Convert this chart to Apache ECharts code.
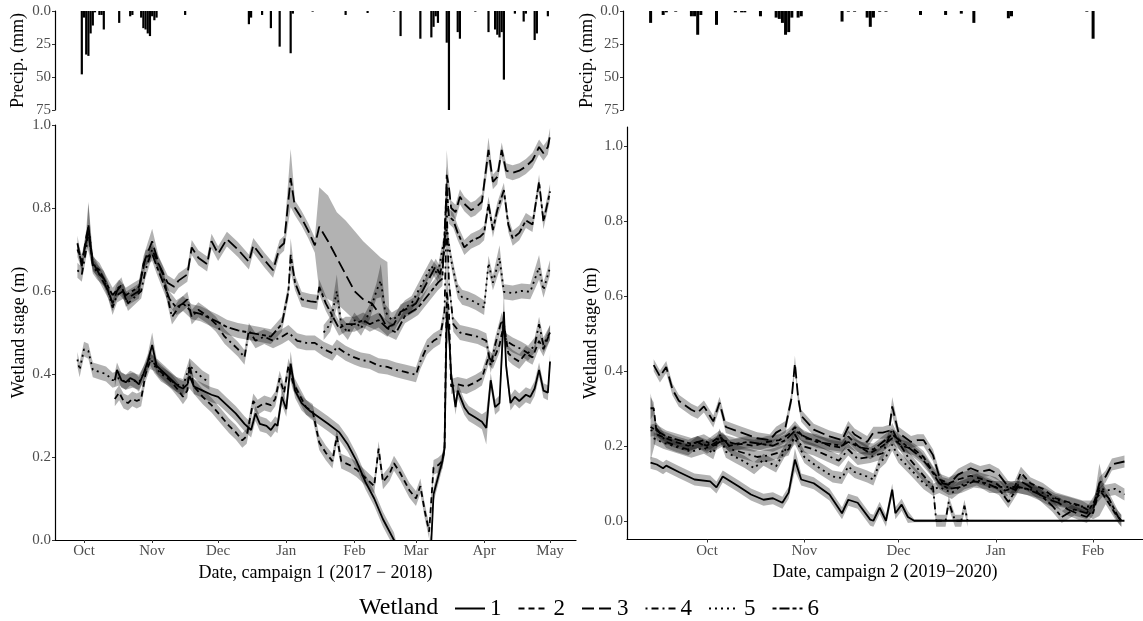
<!DOCTYPE html>
<html>
<head>
<meta charset="utf-8">
<script src="https://cdn.jsdelivr.net/npm/echarts@6/dist/echarts.min.js"></script>
<style>
html,body{margin:0;padding:0;background:#fff}
#chart{width:1143px;height:621px}
</style>
</head>
<body>
<div id="chart"></div>
<script>
// ---------- data ----------
// Wetland identifiers (legend order)
const wetlands = ['1', '2', '3', '4', '5', '6'];

// Month tick labels on the date axes
const monthTicks1 = ['10-01', '11-01', '12-01', '01-01', '02-01', '03-01', '04-01', '05-01'];
const monthTicks2 = ['10-01', '11-01', '12-01', '01-01', '02-01'];
const stageTicks = [0, 0.2, 0.4, 0.6, 0.8, 1.0];
const precipTicks = [0, 25, 50, 75];

// Daily precipitation (mm), campaign 1 (2017-2018)
const precip1 = [
  ['09-30', 48], ['10-01', 5], ['10-02', 33], ['10-03', 34], ['10-04', 17], ['10-05', 11], ['10-06', 1],
  ['10-08', 3], ['10-09', 3], ['10-10', 14], ['10-17', 9], ['10-22', 4], ['10-23', 3],
  ['10-27', 5], ['10-28', 13], ['10-29', 14], ['10-30', 17], ['10-31', 19], ['11-01', 4], ['11-02', 7], ['11-03', 5],
  ['11-16', 3], ['12-15', 10], ['12-16', 5], ['12-21', 3], ['12-25', 13], ['12-29', 27],
  ['01-03', 32], ['01-04', 2], ['01-13', 0.5], ['01-28', 3], ['02-07', 1.5], ['02-19', 0.5], ['02-22', 19],
  ['03-03', 21], ['03-08', 20], ['03-09', 12], ['03-10', 4], ['03-11', 9], ['03-15', 24], ['03-16', 75],
  ['03-20', 16], ['03-21', 21], ['03-28', 0.5], ['04-03', 16], ['04-06', 14], ['04-07', 18], ['04-08', 20],
  ['04-09', 16], ['04-10', 52], ['04-15', 2], ['04-19', 8], ['04-20', 2], ['04-24', 22], ['04-25', 17], ['04-30', 4]
];

// Daily precipitation (mm), campaign 2 (2019-2020)
const precip2 = [
  ['09-13', 9], ['09-17', 3], ['09-18', 1], ['09-21', 0.5], ['09-26', 4], ['09-27', 4], ['09-28', 18], ['09-29', 3],
  ['10-04', 10.5], ['10-10', 1], ['10-12', 1], ['10-13', 1], ['10-18', 4],
  ['10-23', 5], ['10-24', 6], ['10-25', 9], ['10-26', 18], ['10-27', 16], ['10-28', 5], ['10-30', 5], ['10-31', 4],
  ['11-13', 8], ['11-15', 0.5], ['11-17', 0.5], ['11-21', 5], ['11-22', 12], ['11-23', 5], ['11-25', 0.5], ['11-27', 0.5],
  ['12-08', 3], ['12-16', 3], ['12-21', 2], ['12-25', 9], ['01-05', 5.5], ['01-06', 4], ['01-30', 0.5], ['02-01', 21]
];

// Wetland stage (m): [date, mean] or [date, mean, half-width] or [date, mean, low, high]; null mean = gap
const bandHalf1 = 0.018;
const bandHalf2 = 0.016;

const c1w1 = [
  ['10-15', 0.385], ['10-16', 0.41], ['10-18', 0.385], ['10-20', 0.38], ['10-22', 0.39], ['10-24', 0.385],
  ['10-26', 0.375], ['10-28', 0.40], ['10-30', 0.43], ['11-01', 0.47, 0.03], ['11-03', 0.42], ['11-05', 0.41],
  ['11-07', 0.40], ['11-10', 0.385], ['11-13', 0.37], ['11-15', 0.365], ['11-17', 0.375], ['11-18', 0.395, 0.03],
  ['11-20', 0.37], ['11-24', 0.36], ['11-28', 0.35], ['12-01', 0.345], ['12-05', 0.325], ['12-09', 0.305],
  ['12-13', 0.28], ['12-16', 0.265], ['12-18', 0.305], ['12-20', 0.28], ['12-23', 0.275], ['12-25', 0.265],
  ['12-27', 0.28], ['12-28', 0.275], ['12-30', 0.345], ['01-01', 0.315], ['01-03', 0.425, 0.03], ['01-05', 0.36],
  ['01-08', 0.33], ['01-12', 0.31], ['01-16', 0.295], ['01-20', 0.28], ['01-25', 0.26], ['01-29', 0.23],
  ['02-02', 0.19], ['02-06', 0.14], ['02-10', 0.10], ['02-14', 0.05], ['02-18', 0.01], ['02-19', 0.0],
  ['02-21', -0.03, 0.005], ['03-06', -0.03, 0.005], ['03-08', 0.0], ['03-09', 0.11], ['03-11', 0.15], ['03-13', 0.19],
  ['03-14', 0.22], ['03-15', 0.55, 0.08],
  ['03-16', 0.50], ['03-17', 0.40], ['03-19', 0.32], ['03-20', 0.36], ['03-23', 0.32], ['03-25', 0.305],
  ['03-28', 0.295], ['03-31', 0.285], ['04-02', 0.27, 0.04], ['04-04', 0.385], ['04-06', 0.32], ['04-08', 0.33],
  ['04-10', 0.55, 0.05], ['04-11', 0.42], ['04-13', 0.33], ['04-15', 0.345], ['04-17', 0.335], ['04-20', 0.35],
  ['04-22', 0.345], ['04-24', 0.365], ['04-26', 0.41], ['04-28', 0.36], ['04-30', 0.355], ['05-01', 0.43]
];

const c1w2 = [
  ['10-15', 0.34], ['10-17', 0.355], ['10-19', 0.335], ['10-21', 0.33], ['10-23', 0.34], ['10-25', 0.335],
  ['10-27', 0.34], ['10-29', 0.40], ['10-31', 0.43], ['11-02', 0.425], ['11-04', 0.41], ['11-07', 0.395],
  ['11-10', 0.38], ['11-13', 0.36], ['11-15', 0.345], ['11-17', 0.36], ['11-18', 0.42], ['11-20', 0.37],
  ['11-24', 0.345], ['11-28', 0.325], ['12-02', 0.30], ['12-06', 0.275], ['12-09', 0.26], ['12-12', 0.24],
  ['12-14', 0.25], ['12-17', 0.335], ['12-19', 0.32], ['12-22', 0.33], ['12-25', 0.325], ['12-27', 0.34],
  ['12-29', 0.39], ['12-31', 0.355], ['01-02', 0.42], ['01-04', 0.38], ['01-07', 0.35], ['01-10', 0.32],
  ['01-13', 0.31], ['01-16', 0.235], ['01-19', 0.21], ['01-22', 0.19], ['01-24', 0.25], ['01-26', 0.19],
  ['01-30', 0.18], ['02-02', 0.17], ['02-06', 0.15], ['02-10', 0.13], ['02-12', 0.22], ['02-14', 0.14],
  ['02-17', 0.16], ['02-19', 0.185], ['02-22', 0.16], ['02-26', 0.12], ['03-01', 0.10], ['03-03', 0.13],
  ['03-05', 0.07], ['03-07', 0.02], ['03-09', 0.175], ['03-11', 0.18], ['03-13', 0.19], ['03-14', 0.22],
  ['03-15', 0.60, 0.1], ['03-16', 0.55], ['03-17', 0.37], ['03-20', 0.375], ['03-24', 0.37], ['03-28', 0.38],
  ['03-31', 0.39], ['04-03', 0.44], ['04-05', 0.43], ['04-08', 0.47], ['04-10', 0.52], ['04-12', 0.45],
  ['04-14', 0.44], ['04-17', 0.43], ['04-20', 0.45], ['04-23', 0.44], ['04-26', 0.48], ['04-28', 0.46], ['05-01', 0.50]
];

const c1w3 = [
  ['09-28', 0.715], ['09-30', 0.66], ['10-02', 0.73], ['10-03', 0.755, 0.06], ['10-05', 0.67], ['10-07', 0.65],
  ['10-10', 0.62], ['10-12', 0.60], ['10-14', 0.57], ['10-16', 0.60], ['10-18', 0.615], ['10-20', 0.58],
  ['10-23', 0.59], ['10-26', 0.60], ['10-28', 0.665], ['11-01', 0.72, 0.03], ['11-04', 0.665], ['11-08', 0.62],
  ['11-11', 0.61], ['11-13', 0.625], ['11-17', 0.64], ['11-19', 0.705], ['11-22', 0.68], ['11-26', 0.665],
  ['11-28', 0.72], ['12-01', 0.69], ['12-05', 0.725], ['12-10', 0.70], ['12-15', 0.67], ['12-17', 0.71],
  ['12-22', 0.675], ['12-26', 0.65], ['12-29', 0.705], ['12-31', 0.715], ['01-03', 0.872, 0.07], ['01-05', 0.80],
  ['01-08', 0.775], ['01-11', 0.745], ['01-14', 0.71], ['01-16', 0.755, 0.60, 0.85], ['01-20', 0.72, 0.58, 0.83],
  ['01-24', 0.68, 0.57, 0.79], ['01-28', 0.64, 0.55, 0.77], ['02-01', 0.60, 0.53, 0.745], ['02-05', 0.58, 0.52, 0.72],
  ['02-09', 0.57, 0.51, 0.70], ['02-13', 0.54, 0.50, 0.68], ['02-16', 0.51, 0.49, 0.67], ['02-17', 0.515],
  ['02-19', 0.52], ['02-22', 0.55], ['02-26', 0.56], ['03-01', 0.57], ['03-04', 0.60], ['03-07', 0.63],
  ['03-10', 0.66], ['03-12', 0.64], ['03-14', 0.70], ['03-15', 0.88, 0.06], ['03-16', 0.85], ['03-17', 0.80],
  ['03-19', 0.79], ['03-21', 0.827], ['03-23', 0.81], ['03-26', 0.795], ['03-28', 0.80], ['03-31', 0.815],
  ['04-03', 0.94, 0.03], ['04-05', 0.863], ['04-07', 0.875], ['04-09', 0.94], ['04-11', 0.89], ['04-14', 0.885],
  ['04-17', 0.89], ['04-20', 0.90], ['04-23', 0.915], ['04-26', 0.947], ['04-28', 0.932], ['04-30', 0.947], ['05-01', 0.975]
];

const c1w4 = [
  ['09-28', 0.65], ['09-30', 0.64], ['10-02', 0.70], ['10-03', 0.76, 0.05], ['10-05', 0.66], ['10-07', 0.645],
  ['10-10', 0.63], ['10-12', 0.60], ['10-14', 0.56], ['10-16', 0.59], ['10-19', 0.60], ['10-21', 0.57],
  ['10-24', 0.585], ['10-27', 0.60], ['10-29', 0.65], ['11-01', 0.70], ['11-03', 0.675], ['11-06', 0.64],
  ['11-08', 0.585], ['11-10', 0.537], ['11-13', 0.56], ['11-17', 0.58], ['11-19', 0.537], ['11-22', 0.555],
  ['11-26', 0.54], ['11-30', 0.52], ['12-04', 0.49], ['12-07', 0.475], ['12-10', 0.46], ['12-13', 0.44],
  ['12-15', 0.505], ['12-18', 0.48], ['12-22', 0.49], ['12-26', 0.48], ['12-30', 0.49], ['01-02', 0.50],
  ['01-06', 0.48], ['01-10', 0.475], ['01-14', 0.475], ['01-18', 0.46], ['01-22', 0.45], ['01-24', 0.465],
  ['01-28', 0.45], ['02-01', 0.44], ['02-04', 0.434], ['02-08', 0.43], ['02-12', 0.42], ['02-16', 0.417],
  ['02-20', 0.41], ['02-24', 0.405], ['03-01', 0.398], ['03-03', 0.43], ['03-06', 0.465], ['03-09', 0.48],
  ['03-12', 0.49], ['03-14', 0.55], ['03-15', 0.80, 0.1], ['03-16', 0.62], ['03-18', 0.52], ['03-21', 0.50],
  ['03-25', 0.495], ['03-29', 0.49], ['04-02', 0.48], ['04-04', 0.42], ['04-06', 0.47], ['04-09', 0.53],
  ['04-11', 0.48], ['04-14', 0.47], ['04-18', 0.46], ['04-21', 0.45], ['04-24', 0.47], ['04-26', 0.52],
  ['04-28', 0.47], ['05-01', 0.50]
];

const c1w5 = [
  ['09-28', 0.435], ['09-29', 0.41], ['10-01', 0.46], ['10-03', 0.455], ['10-05', 0.41], ['10-08', 0.405],
  ['10-11', 0.40], ['10-14', 0.385], ['10-17', 0.39], ['10-20', 0.38], ['10-23', 0.385], ['10-26', 0.38],
  ['10-29', 0.41], ['10-31', 0.44], ['11-02', 0.42], ['11-05', 0.40], ['11-08', 0.39], ['11-12', 0.375],
  ['11-15', 0.37], ['11-18', 0.42], ['11-21', 0.405], ['11-24', 0.39], ['11-27', 0.38], ['12-15', null],
  ['01-18', 0.50], ['01-21', 0.52], ['01-24', 0.60, 0.04], ['01-26', 0.52], ['01-29', 0.50], ['02-01', 0.53],
  ['02-04', 0.51], ['02-08', 0.55], ['02-11', 0.60], ['02-13', 0.625, 0.04], ['02-15', 0.55], ['02-18', 0.53],
  ['02-21', 0.54], ['02-24', 0.56], ['02-27', 0.57], ['03-02', 0.60], ['03-05', 0.63], ['03-08', 0.66],
  ['03-11', 0.64], ['03-13', 0.70], ['03-15', 0.75], ['03-17', 0.675], ['03-20', 0.60], ['03-22', 0.585],
  ['03-25', 0.58], ['03-28', 0.573], ['04-01', 0.56], ['04-03', 0.667], ['04-05', 0.62], ['04-08', 0.68, 0.03],
  ['04-10', 0.598], ['04-14', 0.595], ['04-18', 0.60], ['04-22', 0.598], ['04-26', 0.657, 0.03], ['04-28', 0.602],
  ['05-01', 0.657]
];

const c1w6 = [
  ['09-28', 0.70], ['09-30', 0.67], ['10-02', 0.72], ['10-03', 0.74], ['10-05', 0.665], ['10-08', 0.65],
  ['10-11', 0.62], ['10-14', 0.59], ['10-17', 0.61], ['10-20', 0.59], ['10-23', 0.60], ['10-26', 0.61],
  ['10-29', 0.68], ['11-01', 0.69], ['11-03', 0.66], ['11-06', 0.62], ['11-09', 0.58], ['11-12', 0.56],
  ['11-15', 0.57], ['11-19', 0.55], ['11-23', 0.545], ['11-27', 0.535], ['12-01', 0.525], ['12-05', 0.513],
  ['12-10', 0.505], ['12-15', 0.50], ['12-20', 0.495], ['12-25', 0.49], ['12-30', 0.52], ['01-02', 0.60],
  ['01-03', 0.687, 0.04], ['01-05', 0.62], ['01-08', 0.58], ['01-12', 0.575], ['01-15', 0.573], ['01-16', 0.61],
  ['01-19', 0.57], ['01-22', 0.54], ['01-25', 0.51], ['01-28', 0.52], ['02-01', 0.52], ['02-05', 0.53],
  ['02-08', 0.52], ['02-12', 0.53], ['02-16', 0.51], ['02-20', 0.50], ['02-24', 0.54], ['02-27', 0.55],
  ['03-02', 0.56], ['03-05', 0.58], ['03-08', 0.60], ['03-11', 0.62], ['03-13', 0.63], ['03-15', 0.85, 0.05],
  ['03-16', 0.78], ['03-18', 0.77], ['03-20', 0.74], ['03-23', 0.705], ['03-26', 0.72], ['03-30', 0.73],
  ['04-01', 0.74], ['04-03', 0.81], ['04-05', 0.747], ['04-07', 0.795], ['04-10', 0.843], ['04-12', 0.76],
  ['04-14', 0.727], ['04-17', 0.74], ['04-20', 0.77], ['04-23', 0.76], ['04-26', 0.863], ['04-28', 0.767], ['05-01', 0.84]
];

const c2w1 = [
  ['09-13', 0.155], ['09-15', 0.15], ['09-17', 0.14], ['09-18', 0.147], ['09-22', 0.13], ['09-27', 0.11],
  ['10-02', 0.105], ['10-04', 0.089], ['10-06', 0.118], ['10-11', 0.092], ['10-15', 0.07], ['10-19', 0.056],
  ['10-22', 0.06], ['10-25', 0.048], ['10-27', 0.075], ['10-29', 0.163, 0.03], ['10-31', 0.11], ['11-04', 0.10],
  ['11-09', 0.07], ['11-13', 0.02], ['11-15', 0.056], ['11-18', 0.048], ['11-22', 0.003], ['11-23', 0.0],
  ['11-25', 0.035], ['11-27', 0.0], ['11-29', 0.083], ['11-30', 0.02], ['12-02', 0.043], ['12-04', 0.01],
  ['12-06', 0.0, 0.004], ['02-11', 0.0, 0.0]
];

const c2w2 = [
  ['09-13', 0.30, 0.03], ['09-14', 0.30], ['09-15', 0.23], ['09-18', 0.22], ['09-21', 0.21], ['09-25', 0.20],
  ['09-28', 0.21], ['10-01', 0.20], ['10-05', 0.225], ['10-08', 0.20], ['10-12', 0.205], ['10-16', 0.20],
  ['10-20', 0.21], ['10-24', 0.215], ['10-27', 0.23], ['10-29', 0.25], ['11-01', 0.22], ['11-05', 0.215],
  ['11-09', 0.20], ['11-13', 0.195], ['11-15', 0.225], ['11-18', 0.20], ['11-22', 0.18], ['11-26', 0.20],
  ['11-29', 0.22], ['12-02', 0.20], ['12-06', 0.19], ['12-09', 0.17], ['12-12', 0.13], ['12-14', 0.11],
  ['12-17', 0.10], ['12-20', 0.11], ['12-24', 0.12], ['12-28', 0.11], ['01-01', 0.10], ['01-04', 0.08],
  ['01-07', 0.09], ['01-09', 0.128], ['01-12', 0.10], ['01-16', 0.085], ['01-20', 0.06], ['01-24', 0.05],
  ['01-28', 0.04], ['02-01', 0.02], ['02-03', 0.083, 0.07], ['02-05', 0.06], ['02-08', 0.02], ['02-10', 0.0]
];

const c2w3 = [
  ['09-14', 0.415], ['09-16', 0.385], ['09-18', 0.41], ['09-20', 0.35], ['09-22', 0.32], ['09-26', 0.296],
  ['09-28', 0.288], ['09-30', 0.305], ['10-03', 0.265], ['10-05', 0.315], ['10-07', 0.25], ['10-12', 0.235],
  ['10-17', 0.22], ['10-21', 0.215], ['10-23', 0.235], ['10-26', 0.25], ['10-28', 0.33], ['10-29', 0.42, 0.02],
  ['10-30', 0.33], ['10-31', 0.28], ['11-04', 0.243], ['11-09', 0.225], ['11-13', 0.215], ['11-15', 0.25],
  ['11-17', 0.23], ['11-21', 0.21], ['11-23', 0.235], ['11-26', 0.235], ['11-28', 0.24], ['11-29', 0.305, 0.025],
  ['12-01', 0.235], ['12-05', 0.21], ['12-07', 0.215], ['12-09', 0.215], ['12-12', 0.175], ['12-14', 0.118],
  ['12-15', 0.10], ['12-17', 0.096], ['12-20', 0.123], ['12-24', 0.14], ['12-27', 0.13], ['12-30', 0.136],
  ['01-02', 0.123], ['01-05', 0.09], ['01-07', 0.083], ['01-09', 0.105], ['01-12', 0.09], ['01-15', 0.07],
  ['01-18', 0.056], ['01-21', 0.048], ['01-24', 0.03], ['01-28', 0.016], ['01-30', 0.01], ['02-01', 0.03],
  ['02-03', 0.10], ['02-05', 0.118], ['02-07', 0.15], ['02-11', 0.158]
];

const c2w4 = [
  ['09-13', 0.24], ['09-15', 0.245], ['09-18', 0.21], ['09-21', 0.20], ['09-25', 0.19], ['09-28', 0.21],
  ['10-01', 0.195], ['10-04', 0.21], ['10-06', 0.22], ['10-09', 0.19], ['10-13', 0.18], ['10-17', 0.17],
  ['10-21', 0.175], ['10-25', 0.185], ['10-27', 0.19], ['10-29', 0.23], ['10-31', 0.20], ['11-04', 0.19],
  ['11-08', 0.175], ['11-12', 0.16], ['11-15', 0.19], ['11-18', 0.165], ['11-22', 0.17], ['11-26', 0.18],
  ['11-29', 0.245], ['12-01', 0.21], ['12-04', 0.17], ['12-07', 0.14], ['12-10', 0.11], ['12-12', 0.09],
  ['12-13', 0.0], ['12-16', 0.0], ['12-17', 0.05], ['12-19', 0.0], ['12-21', 0.0], ['12-22', 0.04], ['12-23', 0.0]
];

const c2w5 = [
  ['09-14', 0.22], ['09-17', 0.208], ['09-22', 0.195], ['09-26', 0.184], ['09-30', 0.195], ['10-03', 0.18],
  ['10-05', 0.23], ['10-07', 0.184], ['10-10', 0.17], ['10-13', 0.157], ['10-16', 0.14], ['10-19', 0.163],
  ['10-23', 0.145], ['10-26', 0.19], ['10-29', 0.22], ['11-01', 0.17], ['11-05', 0.145], ['11-10', 0.118],
  ['11-13', 0.114], ['11-15', 0.145], ['11-17', 0.13], ['11-21', 0.118], ['11-23', 0.11], ['11-25', 0.155],
  ['11-27', 0.17], ['11-29', 0.203], ['12-01', 0.17], ['12-05', 0.136], ['12-09', 0.10], ['12-12', 0.083],
  ['12-14', 0.09], ['12-18', 0.074], ['12-22', 0.10], ['12-26', 0.11], ['12-30', 0.09], ['01-05', 0.09],
  ['01-08', 0.09], ['01-12', 0.083], ['01-16', 0.074], ['01-20', 0.056], ['01-24', 0.048], ['01-28', 0.038],
  ['02-01', 0.038], ['02-03', 0.09], ['02-05', 0.08], ['02-08', 0.085], ['02-11', 0.07]
];

const c2w6 = [
  ['09-13', 0.25, 0.09], ['09-15', 0.24], ['09-18', 0.225], ['09-22', 0.215], ['09-26', 0.205], ['09-30', 0.215],
  ['10-03', 0.20], ['10-06', 0.215], ['10-10', 0.205], ['10-14', 0.21], ['10-18', 0.205], ['10-22', 0.20],
  ['10-26', 0.215], ['10-29', 0.24], ['11-01', 0.225], ['11-05', 0.21], ['11-09', 0.205], ['11-13', 0.20],
  ['11-15', 0.21], ['11-19', 0.195], ['11-23', 0.19], ['11-26', 0.21], ['11-29', 0.23], ['12-02', 0.21],
  ['12-05', 0.19], ['12-08', 0.17], ['12-11', 0.14], ['12-14', 0.10], ['12-17', 0.085], ['12-21', 0.09],
  ['12-25', 0.105], ['12-29', 0.10], ['01-02', 0.085], ['01-05', 0.05], ['01-08', 0.09], ['01-11', 0.085],
  ['01-15', 0.07], ['01-19', 0.04], ['01-22', 0.01], ['01-26', 0.03], ['01-30', 0.02], ['02-02', 0.06],
  ['02-04', 0.08], ['02-06', 0.06], ['02-09', 0.01], ['02-10', 0.0]
];

// ---------- helpers ----------
const FONT = '"Liberation Serif", "DejaVu Serif", serif';
const DAY = 86400000;
const MONTH_ABBR = ['Jan', 'Feb', 'Mar', 'Apr', 'May', 'Jun', 'Jul', 'Aug', 'Sep', 'Oct', 'Nov', 'Dec'];

function ts(startYear, md) {
  const [m, d] = md.split('-').map(Number);
  return Date.UTC(m >= 7 ? startYear : startYear + 1, m - 1, d);
}

const dashes = {
  '1': 'solid',
  '2': [6, 4],
  '3': [12, 5],
  '4': [2, 4, 7, 4],
  '5': [2, 4],
  '6': [4, 3, 10, 3]
};

const bandFill = 'rgba(0,0,0,0.3)';

function linePoints(rows, year) {
  return rows.map(r => [ts(year, r[0]), r[1]]);
}

function bandPoints(rows, year, half) {
  return rows.map(r => {
    const t = ts(year, r[0]);
    if (r[1] == null) return [t, null, null];
    if (r.length === 4) return [t, r[2], r[3]];
    const h = r.length === 3 ? r[2] : half;
    return [t, r[1] - h, r[1] + h];
  });
}

// Shaded uncertainty band drawn as polygons through the axis scales
function bandSeries(rows, year, half, xi, yi) {
  const pts = bandPoints(rows, year, half);
  return {
    type: 'custom',
    xAxisIndex: xi,
    yAxisIndex: yi,
    silent: true,
    clip: true,
    z: 1,
    encode: { x: 0, y: [1, 2] },
    data: pts,
    renderItem: function (params, api) {
      if (params.dataIndex !== 0) return null;
      const children = [];
      let run = [];
      const flush = () => {
        if (run.length > 1) {
          const upper = run.map(p => api.coord([p[0], p[2]]));
          const lower = run.map(p => api.coord([p[0], p[1]])).reverse();
          children.push({ type: 'polygon', shape: { points: upper.concat(lower) }, style: { fill: bandFill } });
        }
        run = [];
      };
      pts.forEach(p => { if (p[1] == null) flush(); else run.push(p); });
      flush();
      const cs = params.coordSys;
      return {
        type: 'group',
        children: children,
        clipPath: { type: 'rect', shape: { x: cs.x, y: cs.y, width: cs.width, height: cs.height } }
      };
    }
  };
}

function lineSeries(name, rows, year, xi, yi) {
  return {
    type: 'line',
    name: name,
    xAxisIndex: xi,
    yAxisIndex: yi,
    data: linePoints(rows, year),
    symbol: 'none',
    showSymbol: false,
    connectNulls: false,
    silent: true,
    clip: true,
    z: 3,
    lineStyle: { color: '#000', width: 1.8, type: dashes[name], cap: 'butt' },
    itemStyle: { color: '#000' }
  };
}

const camp1 = [c1w1, c1w2, c1w3, c1w4, c1w5, c1w6];
const camp2 = [c2w1, c2w2, c2w3, c2w4, c2w5, c2w6];

const oct1a = ts(2017, '10-01');
const oct1b = ts(2019, '10-01');

const tickLabelStyle = { color: '#4d4d4d', fontFamily: FONT, fontSize: 15 };
const nameStyle = { color: '#000', fontFamily: FONT, fontSize: 18 };
const axisLine = { show: true, onZero: false, lineStyle: { color: '#000', width: 1.2 } };
const axisTick = { show: true, length: 3, lineStyle: { color: '#333', width: 1 } };

// Date axes are numeric (ms since epoch) with month-start ticks
function dateAxis(grid, min, max, ticks, year, name, show) {
  const vals = ticks.map(m => ts(year, m));
  return {
    type: 'value', gridIndex: grid, min: min, max: max, show: show, scale: true,
    name: name, nameLocation: 'middle', nameGap: 24, nameTextStyle: nameStyle,
    axisLine: axisLine,
    axisTick: Object.assign({ customValues: vals }, axisTick),
    splitLine: { show: false },
    axisLabel: {
      customValues: vals, margin: 4, ...tickLabelStyle,
      formatter: v => MONTH_ABBR[new Date(v).getUTCMonth()]
    }
  };
}

function stageAxis(grid, min, max, gap) {
  return {
    type: 'value', gridIndex: grid, min: min, max: max,
    name: 'Wetland stage (m)', nameLocation: 'middle', nameRotate: 90, nameGap: gap, nameTextStyle: nameStyle,
    axisLine: axisLine,
    axisTick: Object.assign({ customValues: stageTicks }, axisTick),
    splitLine: { show: false },
    axisLabel: { customValues: stageTicks, margin: 4, ...tickLabelStyle, formatter: v => v.toFixed(1) }
  };
}

function precipAxis(grid, gap) {
  return {
    type: 'value', gridIndex: grid, min: 0, max: 75, inverse: true,
    name: 'Precip. (mm)', nameLocation: 'middle', nameRotate: 90, nameGap: gap, nameTextStyle: nameStyle,
    axisLine: axisLine,
    axisTick: Object.assign({ customValues: precipTicks }, axisTick),
    splitLine: { show: false },
    axisLabel: { customValues: precipTicks, margin: 4, ...tickLabelStyle, formatter: v => (v === 0 ? '0.0' : String(v)) }
  };
}

const series = [];
camp1.forEach(rows => series.push(bandSeries(rows, 2017, bandHalf1, 1, 1)));
camp2.forEach(rows => series.push(bandSeries(rows, 2019, bandHalf2, 3, 3)));
camp1.forEach((rows, i) => series.push(lineSeries(wetlands[i], rows, 2017, 1, 1)));
camp2.forEach((rows, i) => series.push(lineSeries(wetlands[i], rows, 2019, 3, 3)));
series.push({
  type: 'bar', xAxisIndex: 0, yAxisIndex: 0, barWidth: 2.2, silent: true,
  itemStyle: { color: '#000' }, data: precip1.map(r => [ts(2017, r[0]), r[1]])
});
series.push({
  type: 'bar', xAxisIndex: 2, yAxisIndex: 2, barWidth: 3, silent: true,
  itemStyle: { color: '#000' }, data: precip2.map(r => [ts(2019, r[0]), r[1]])
});

const option = {
  backgroundColor: '#fff',
  animation: false,
  grid: [
    { left: 55, top: 11, width: 521, height: 99 },
    { left: 55, top: 125, width: 521, height: 415 },
    { left: 623, top: 11, width: 520, height: 99 },
    { left: 627, top: 127, width: 516, height: 412.5 }
  ],
  xAxis: [
    dateAxis(0, oct1a - 13.2 * DAY, oct1a + 223.8 * DAY, monthTicks1, 2017, '', false),
    dateAxis(1, oct1a - 13.2 * DAY, oct1a + 223.8 * DAY, monthTicks1, 2017, 'Date, campaign 1 (2017 \u2212 2018)', true),
    dateAxis(2, oct1b - 26.8 * DAY, oct1b + 138.9 * DAY, monthTicks2, 2019, '', false),
    dateAxis(3, oct1b - 25.5 * DAY, oct1b + 138.9 * DAY, monthTicks2, 2019, 'Date, campaign 2 (2019\u22122020)', true)
  ],
  yAxis: [
    precipAxis(0, 28),
    stageAxis(1, 0, 1, 26),
    precipAxis(2, 23),
    stageAxis(3, -0.05, 1.05, 27)
  ],
  legend: {
    data: wetlands,
    left: 449, top: 592,
    itemWidth: 30, itemHeight: 20, itemGap: 16,
    selectedMode: false,
    itemStyle: { opacity: 0 },
    textStyle: { color: '#000', fontFamily: FONT, fontSize: 23 }
  },
  graphic: [{
    type: 'text', x: 359, y: 608,
    style: { text: 'Wetland', fill: '#000', font: '24px ' + FONT, verticalAlign: 'middle', align: 'left' }
  }],
  series: series
};

const chart = echarts.init(document.getElementById('chart'), null, { renderer: 'canvas' });
chart.setOption(option);
</script>
</body>
</html>
